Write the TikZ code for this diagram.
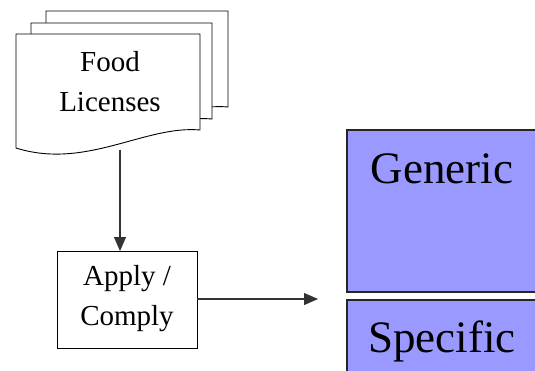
\documentclass[tikz,border=0pt]{standalone}
\usepackage{fontspec}
\setmainfont{Liberation Serif}
\usetikzlibrary{arrows.meta}
\definecolor{boxblue}{HTML}{9999FF}
\tikzset{
  docpage/.style={draw=black, line width=0.9pt, fill=white},
  flowbox/.style={draw=black, line width=1pt, fill=white},
  bluebox/.style={draw=black!85, line width=1.3pt, fill=boxblue},
  flowarrow/.style={draw=black!80, line width=1.1pt, -{Triangle[length=14pt,width=12pt]}},
  smalltext/.style={font=\fontsize{29}{40}\selectfont, align=center, inner sep=0pt},
  bigtext/.style={font=\fontsize{45}{50}\selectfont, inner sep=0pt, anchor=base}
}
\begin{document}
\begin{tikzpicture}[x=1pt, y=-1pt]
\useasboundingbox (0,0) rectangle (535,370);
% stacked document shapes, back to front: left, right, top, lower-right corner
\foreach \l/\r/\t/\b in {46/228/11/107, 31/212/23/119, 16/200/34/130}{
  \draw[docpage] (\l,\t) -- (\r,\t) -- (\r,\b)
    .. controls ({\r-55},{\b-5}) and ({\l+70},{\b+40}) .. (\l,{\b+18}) -- cycle;
}
\node[smalltext] (food) at (110,82) {Food\\Licenses};
\coordinate (docbottom) at (120,150);

% process box
\draw[flowbox] (57,251) rectangle (197,348);
\node[smalltext] (apply) at (127,299) {Apply /\\Comply};
\coordinate (applytop) at (120,251);
\coordinate (applyright) at (197,299);
\coordinate (target) at (318,299);

% blue category boxes
\draw[bluebox] (347,130) rectangle (545,292);
\draw[bluebox] (347,300) rectangle (545,380);
\node[bigtext] (generic) at (442,183) {Generic};
\node[bigtext] (specific) at (442,352) {Specific};

% connectors
\draw[flowarrow] (docbottom) -- (applytop);
\draw[flowarrow] (applyright) -- (target);
\end{tikzpicture}
\end{document}
